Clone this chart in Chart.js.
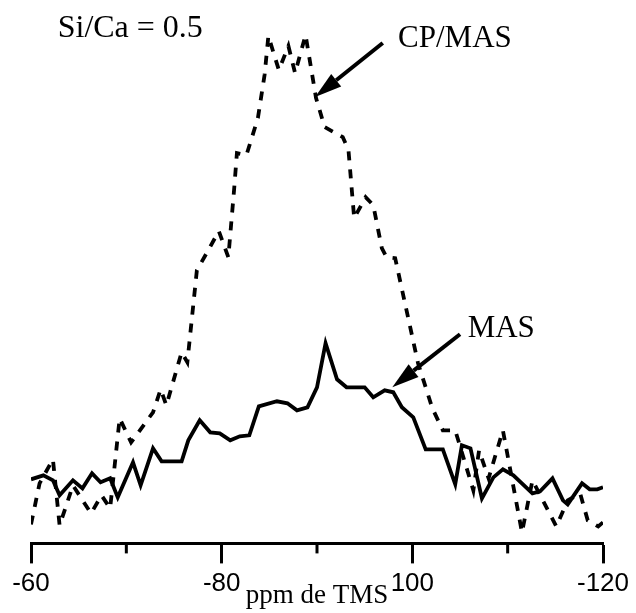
<!DOCTYPE html>
<html>
<head>
<meta charset="utf-8">
<script src="https://cdn.jsdelivr.net/npm/chart.js@4/dist/chart.umd.min.js"></script>
<style>
    body { margin: 0; background: #fff; }
    #wrap { width: 636px; height: 613px; }
</style>
</head>
<body>
<div id="wrap"><canvas id="spectre" width="636" height="613"></canvas></div>
<script>
// MAS spectrum (solid)
const masPpm = [-60, -61.3, -62.3, -63.0, -64.4, -65.4, -66.4, -67.3, -68.3, -69.1, -70.7, -71.5, -72.8, -73.7, -75.8, -76.5, -77.7, -78.8, -79.8, -80.9, -81.9, -82.9, -83.9, -85.8, -86.9, -87.9, -89.0, -90.0, -90.9, -92.1, -93.1, -95.0, -95.9, -97.1, -98.0, -98.9, -100.1, -101.4, -103.2, -104.5, -105.2, -106.1, -107.3, -108.5, -109.5, -110.6, -112.6, -113.4, -114.7, -115.8, -116.3, -117.8, -118.6, -119.4, -120.0];
const masInt = [12.8, 13.6, 12.6, 9.6, 12.6, 11.0, 14.0, 12.2, 13.0, 9.2, 16.2, 11.6, 19.0, 16.4, 16.4, 20.6, 24.6, 22.2, 22.0, 20.6, 21.4, 21.6, 27.4, 28.4, 28.0, 26.6, 27.2, 31.2, 40.0, 32.8, 31.2, 31.2, 29.2, 30.6, 30.2, 27.2, 25.2, 18.8, 18.8, 11.8, 19.6, 19.0, 9.0, 13.2, 14.8, 13.6, 10.0, 10.4, 13.0, 8.6, 7.8, 12.0, 10.8, 10.8, 11.2];

// CP/MAS spectrum (dashed)
const cpPpm = [-60.0, -60.9, -62.3, -63.0, -64.4, -66.3, -67.4, -68.3, -69.3, -70.5, -72.8, -73.6, -74.2, -75.8, -76.4, -77.4, -78.6, -79.7, -80.7, -81.3, -81.6, -82.6, -83.8, -84.5, -84.9, -86.0, -87.0, -87.7, -88.8, -89.9, -90.8, -92.7, -93.3, -93.9, -95.1, -95.9, -96.8, -97.3, -98.2, -100.6, -102.1, -103.2, -104.5, -106.4, -107.0, -108.0, -109.5, -111.5, -112.6, -115.1, -116.3, -117.6, -118.4, -119.5, -120.0];
const cpInt = [3.8, 12.0, 16.8, 3.6, 11.6, 6.0, 9.6, 7.0, 25.0, 20.2, 26.2, 30.8, 27.6, 38.2, 36.2, 54.6, 58.6, 62.4, 57.2, 70.6, 78.0, 77.6, 85.0, 93.6, 101.4, 94.6, 99.4, 94.0, 101.6, 89.0, 83.2, 81.2, 78.6, 65.0, 69.2, 67.6, 59.0, 57.2, 57.0, 36.0, 27.0, 22.6, 22.6, 10.6, 18.6, 13.0, 22.6, 2.2, 12.6, 3.4, 8.6, 10.0, 4.6, 3.4, 4.2];

// x axis labels
const tickValues = [-60, -80, -100, -120];
const tickLabels = ['-60', '-80', '100', '-120'];

const toPoints = (xs, ys) => xs.map((x, i) => ({ x: x, y: ys[i] }));

// labels and arrows, in data units
const notes = {
    id: 'notes',
    afterDatasetsDraw(chart) {
        const ctx = chart.ctx;
        const sx = chart.scales.x;
        const sy = chart.scales.y;
        const px = v => sx.getPixelForValue(v);
        const py = v => sy.getPixelForValue(v);

        ctx.save();
        ctx.fillStyle = '#000';
        ctx.strokeStyle = '#000';
        ctx.textBaseline = 'alphabetic';
        ctx.font = '32px "Liberation Serif"';
        ctx.fillText('Si/Ca = 0.5', px(-62.8), py(101.2));
        ctx.font = '31px "Liberation Serif"';
        ctx.fillText('CP/MAS', px(-98.5), py(99.2));
        ctx.fillText('MAS', px(-105.8), py(41.2));

        arrow(ctx, px(-96.9), py(100), px(-89.8), py(89.2));
        arrow(ctx, px(-105.0), py(41.8), px(-97.9), py(31.2));

        // short minor ticks
        ctx.lineWidth = 3;
        const bottom = chart.chartArea.bottom;
        [-70, -90, -110].forEach(v => {
            ctx.beginPath();
            ctx.moveTo(px(v), bottom);
            ctx.lineTo(px(v), bottom + 10);
            ctx.stroke();
        });
        ctx.restore();
    }
};

function arrow(ctx, x0, y0, x1, y1) {
    const a = Math.atan2(y1 - y0, x1 - x0);
    const len = 27, half = 8;
    const bx = x1 - len * Math.cos(a);
    const by = y1 - len * Math.sin(a);
    ctx.lineWidth = 4;
    ctx.beginPath();
    ctx.moveTo(x0, y0);
    ctx.lineTo(bx, by);
    ctx.stroke();
    ctx.beginPath();
    ctx.moveTo(x1, y1);
    ctx.lineTo(bx + half * Math.sin(a), by - half * Math.cos(a));
    ctx.lineTo(bx - half * Math.sin(a), by + half * Math.cos(a));
    ctx.closePath();
    ctx.fill();
}

new Chart(document.getElementById('spectre'), {
    type: 'line',
    data: {
        datasets: [
            {
                label: 'CP/MAS',
                data: toPoints(cpPpm, cpInt),
                borderColor: '#000',
                borderWidth: 3.8,
                borderDash: [9, 9],
                pointRadius: 0,
                tension: 0,
            },
            {
                label: 'MAS',
                data: toPoints(masPpm, masInt),
                borderColor: '#000',
                borderWidth: 3.8,
                pointRadius: 0,
                tension: 0,
            }
        ],
    },
    options: {
        responsive: false,
        animation: false,
        layout: { padding: { top: 18, left: 31, right: 33, bottom: 0 } },
        plugins: {
            legend: { display: false },
            tooltip: { enabled: false },
        },
        scales: {
            x: {
                type: 'linear',
                min: -120,
                max: -60,
                reverse: true,
                border: { display: true, color: '#000', width: 3 },
                grid: {
                    drawOnChartArea: false,
                    drawTicks: true,
                    tickLength: 20,
                    tickWidth: 3,
                    tickColor: c => tickValues.includes(c.tick.value) ? '#000' : 'rgba(0,0,0,0)',
                },
                ticks: {
                    stepSize: 10,
                    autoSkip: false,
                    maxRotation: 0,
                    padding: 5,
                    color: '#000',
                    font: { family: 'Liberation Sans', size: 26 },
                    callback: v => {
                        const i = tickValues.indexOf(v);
                        return i < 0 ? '' : tickLabels[i];
                    },
                },
                title: {
                    display: true,
                    text: 'ppm de TMS',
                    color: '#000',
                    font: { family: 'Liberation Serif', size: 27 },
                    padding: { top: -25, bottom: 1 },
                },
            },
            y: {
                display: false,
                min: 0,
                max: 105,
            },
        },
    },
    plugins: [notes],
});
</script>
</body>
</html>
